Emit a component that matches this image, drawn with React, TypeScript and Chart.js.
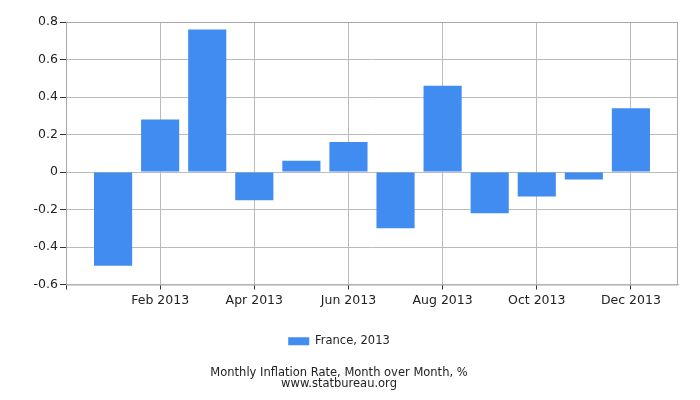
import React, { useEffect, useRef } from 'react';
import { Chart, registerables } from 'chart.js';

Chart.register(...registerables);

const months = [
  'Jan 2013', 'Feb 2013', 'Mar 2013', 'Apr 2013', 'May 2013', 'Jun 2013',
  'Jul 2013', 'Aug 2013', 'Sep 2013', 'Oct 2013', 'Nov 2013', 'Dec 2013',
];
const franceValues = [-0.5, 0.28, 0.76, -0.15, 0.06, 0.16, -0.3, 0.46, -0.22, -0.13, -0.04, 0.34];
const xTickValues = [-1, 1, 3, 5, 7, 9, 11];
const seriesLabel = 'France, 2013';
const titleLines = ['Monthly Inflation Rate, Month over Month, %', 'www.statbureau.org'];

const FONT = 'DejaVu Sans';

// grey frame round the plot area
const frame = {
  id: 'frame',
  afterDraw(chart: any) {
    const { ctx, chartArea } = chart;
    ctx.save();
    ctx.strokeStyle = '#a8a8a8';
    ctx.lineWidth = 1;
    ctx.strokeRect(chartArea.left + 0.5, chartArea.top + 0.5, chartArea.right - chartArea.left - 1, chartArea.bottom - chartArea.top);
    ctx.restore();
  },
};

const App: React.FC = () => {
  const canvasRef = useRef<HTMLCanvasElement | null>(null);

  useEffect(() => {
    document.body.style.margin = '0';
    if (!canvasRef.current) return;
    const ctx = canvasRef.current.getContext('2d');
    if (!ctx) return;

    const chart = new Chart(ctx, {
      type: 'bar',
      data: {
        datasets: [{
          label: seriesLabel,
          data: franceValues.map((v, i) => ({ x: i, y: v })),
          backgroundColor: '#418cf0',
          borderWidth: 0,
          barPercentage: 1,
          categoryPercentage: 0.81,
        }],
      },
      options: {
        animation: false,
        responsive: false,
        layout: { padding: { top: 22, right: 22, left: 0, bottom: 10 } },
        scales: {
          x: {
            type: 'linear',
            min: -1,
            max: 12,
            offset: false,
            afterBuildTicks: (scale: any) => {
              scale.ticks = xTickValues.map(v => ({ value: v }));
            },
            afterFit: (scale: any) => { scale.height = 39; },
            grid: { color: '#bbbbbb', tickColor: '#333', tickLength: 5, offset: false },
            border: { color: '#bbbbbb' },
            ticks: {
              color: '#222',
              font: { family: FONT, size: 12.5 },
              padding: 4,
              maxRotation: 0,
              autoSkip: false,
              callback: (v: any) => (v >= 0 ? months[v] : ''),
            },
          },
          y: {
            min: -0.6,
            max: 0.8,
            afterFit: (scale: any) => { scale.width = 66; },
            grid: { color: '#bbbbbb', tickColor: '#333', tickLength: 6 },
            border: { color: '#bbbbbb' },
            ticks: {
              stepSize: 0.2,
              color: '#222',
              font: { family: FONT, size: 12.5 },
              padding: 2,
              callback: (v: any) => String(Number(Number(v).toFixed(1))),
            },
          },
        },
        plugins: {
          legend: {
            position: 'bottom',
            labels: {
              boxWidth: 21,
              boxHeight: 8,
              color: '#222',
              font: { family: FONT, size: 11.5 },
              padding: 12,
            },
          },
          title: {
            display: true,
            position: 'bottom',
            text: titleLines,
            color: '#222',
            font: { family: FONT, size: 11.5, weight: 'normal', lineHeight: 1.0 },
            padding: { top: 10, bottom: 0 },
          },
          tooltip: { enabled: false },
        },
      },
      plugins: [frame],
    });

    return () => {
      chart.destroy();
    };
  }, []);

  return (
    <div style={{ width: 700, height: 400 }}>
      <canvas ref={canvasRef} width={700} height={400}></canvas>
    </div>
  );
};

export default App;
